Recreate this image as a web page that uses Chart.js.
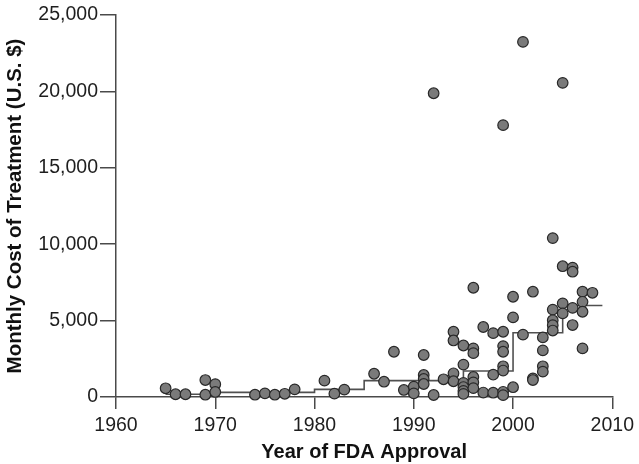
<!DOCTYPE html>
<html>
<head>
<meta charset="utf-8">
<script src="https://cdn.jsdelivr.net/npm/chart.js@4.4.1/dist/chart.umd.min.js"></script>
<style>
    html, body { margin: 0; padding: 0; background: #fff; }
    #wrap { width: 639px; height: 464px; }
</style>
</head>
<body>
<div id="wrap"><canvas id="costChart" width="639" height="464"></canvas></div>
<script>
// approval year and monthly cost (U.S. $) of each drug
const years = [
    1965, 1966, 1967, 1969, 1969, 1970, 1970, 1974, 1975, 1976, 1977, 1978,
    1981, 1982, 1983, 1986, 1987, 1988, 1989, 1990, 1990,
    1991, 1991, 1991, 1991, 1992, 1992, 1993,
    1994, 1994, 1994, 1994, 1995, 1995, 1995, 1995, 1995, 1995,
    1996, 1996, 1996, 1996, 1996, 1996, 1997, 1997, 1998, 1998, 1998,
    1999, 1999, 1999, 1999, 1999, 1999, 1999, 1999,
    2000, 2000, 2000, 2001, 2001, 2002, 2002, 2002,
    2003, 2003, 2003, 2003, 2004, 2004, 2004, 2004, 2004,
    2005, 2005, 2005, 2005, 2006, 2006, 2006, 2006,
    2007, 2007, 2007, 2007, 2008,
];
const costs = [
    570, 180, 180, 1110, 150, 840, 330, 150, 240, 150, 210, 500,
    1070, 220, 480, 1520, 1000, 2960, 460, 680, 240,
    2750, 1440, 1180, 850, 19880, 130, 1160,
    4270, 3700, 1550, 1030, 3370, 2120, 920, 650, 400, 200,
    7150, 3180, 2870, 1310, 960, 580, 4580, 290, 4180, 1460, 280,
    17790, 4270, 3330, 2960, 2010, 1730, 340, 120,
    6560, 5210, 640, 23240, 4080, 6890, 1220, 1110,
    3900, 3050, 2010, 1660, 10400, 5720, 5020, 4700, 4350,
    20560, 8560, 6130, 5470, 8470, 8200, 5830, 4710,
    6890, 6230, 5580, 3180, 6820,
];

// median cost by approval period (step line)
const stepYears = [1965, 1970, 1980, 1985, 1995, 2000, 2005, 2009];
const stepCosts = [180, 300, 500, 1070, 1700, 4200, 5990, 5990];

const yTicks = [0, 5000, 10000, 15000, 20000, 25000];
const xTicks = [1960, 1970, 1980, 1990, 2000, 2010];

const axisColor = "#4a4a4a";
const fontFamily = "'Liberation Sans', Arial, Helvetica, sans-serif";

document.addEventListener("DOMContentLoaded", function () {
    createCostChart();
});

function createCostChart() {
    const ctx = document.getElementById("costChart");
    new Chart(ctx, {
        type: "scatter",
        data: {
            datasets: [
                {
                    label: "Drugs",
                    data: years.map((y, i) => ({ x: y, y: costs[i] })),
                    pointRadius: 5.3,
                    pointBackgroundColor: "rgb(122,122,122)",
                    pointBorderColor: "rgb(40,40,40)",
                    pointBorderWidth: 1.2,
                    clip: false,
                    order: 1,
                },
                {
                    label: "Median",
                    type: "line",
                    data: stepYears.map((y, i) => ({ x: y, y: stepCosts[i] })),
                    stepped: "before",
                    borderColor: "#505050",
                    borderWidth: 1.6,
                    pointRadius: 0,
                    fill: false,
                    order: 2,
                },
            ],
        },
        options: {
            responsive: false,
            animation: false,
            layout: {
                padding: { left: 0, top: 15, right: 23, bottom: 0 },
            },
            plugins: {
                legend: { display: false },
                tooltip: { enabled: false },
            },
            scales: {
                x: {
                    type: "linear",
                    min: 1960,
                    max: 2010,
                    afterBuildTicks: (scale) => {
                        scale.ticks = xTicks.map((v) => ({ value: v }));
                    },
                    afterFit: (scale) => {
                        scale.height = 67;
                    },
                    border: { color: axisColor, width: 1.5 },
                    grid: {
                        drawOnChartArea: false,
                        color: axisColor,
                        lineWidth: 1.5,
                        tickLength: 12,
                    },
                    ticks: {
                        color: "#1e1e1e",
                        padding: 5,
                        font: { family: fontFamily, size: 19.5 },
                        callback: (v) => String(v),
                    },
                    title: {
                        display: true,
                        text: "Year of FDA Approval",
                        color: "#111",
                        padding: { top: 0, bottom: 0 },
                        font: { family: fontFamily, size: 20, weight: "bold" },
                    },
                },
                y: {
                    min: 0,
                    max: 25000,
                    afterBuildTicks: (scale) => {
                        scale.ticks = yTicks.map((v) => ({ value: v }));
                    },
                    afterFit: (scale) => {
                        scale.width = 116;
                    },
                    border: { color: axisColor, width: 1.5 },
                    grid: {
                        drawOnChartArea: false,
                        color: axisColor,
                        lineWidth: 1.5,
                        tickLength: 16,
                    },
                    ticks: {
                        color: "#1e1e1e",
                        padding: 2,
                        font: { family: fontFamily, size: 19.5 },
                        callback: (v) => v.toLocaleString("en-US"),
                    },
                    title: {
                        display: true,
                        text: "Monthly Cost of Treatment (U.S. $)",
                        color: "#111",
                        padding: { top: 3, bottom: 0 },
                        font: { family: fontFamily, size: 20.5, weight: "bold" },
                    },
                },
            },
        },
    });
}
</script>
</body>
</html>
